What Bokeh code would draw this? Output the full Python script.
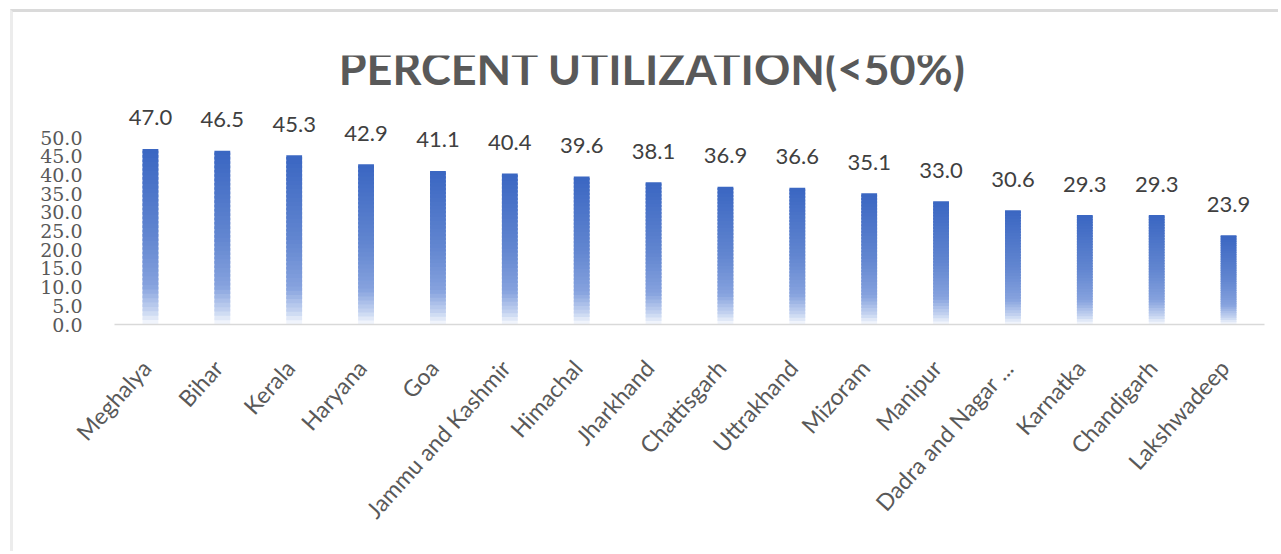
import math
from bokeh.plotting import figure
from bokeh.models import Range1d, FixedTicker, Label, ColumnDataSource
from bokeh.core.properties import value
from bokeh.embed import file_html
from bokeh.resources import INLINE

# States / UTs with utilization below 50 percent
states = ["Meghalya", "Bihar", "Kerala", "Haryana", "Goa", "Jammu and Kashmir",
          "Himachal", "Jharkhand", "Chattisgarh", "Uttrakhand", "Mizoram",
          "Manipur", "Dadra and Nagar ...", "Karnatka", "Chandigarh", "Lakshwadeep"]
utilization = [47.0, 46.5, 45.3, 42.9, 41.1, 40.4, 39.6, 38.1,
               36.9, 36.6, 35.1, 33.0, 30.6, 29.3, 29.3, 23.9]
y_ticks = [0, 5, 10, 15, 20, 25, 30, 35, 40, 45, 50]

TITLE = "PERCENT UTILIZATION(<50%)"
TEXT_GREY = "#595959"

# vertical gradient stops (0 = top of bar, 1 = bottom)
STOPS = [(0.0, (58, 102, 194)), (0.5, (98, 134, 208)), (0.78, (134, 162, 222)),
         (0.92, (196, 211, 240)), (1.0, (248, 250, 254))]


def grad_color(t):
    for (t0, c0), (t1, c1) in zip(STOPS[:-1], STOPS[1:]):
        if t <= t1:
            f = (t - t0) / (t1 - t0)
            r, g, b = (round(a + (b_ - a) * f) for a, b_ in zip(c0, c1))
            return f"#{r:02x}{g:02x}{b:02x}"
    r, g, b = STOPS[-1][1]
    return f"#{r:02x}{g:02x}{b:02x}"


p = figure(width=1268, height=542, output_backend="svg", toolbar_location=None,
           x_range=Range1d(-0.5, len(states) - 0.5), y_range=Range1d(0, 72),
           min_border_left=101, min_border_right=17, min_border_top=43,
           min_border_bottom=230)
p.styles = {"margin-left": "10px", "margin-top": "9px",
            "border-left": "3px solid #ececec", "border-top": "3px solid #dadada"}
p.outline_line_color = None
p.xgrid.visible = False
p.ygrid.visible = False
p.background_fill_color = "white"
p.border_fill_color = "white"

# gradient bars built from stacked slices of each value (drawn bottom-up,
# each slice overlapping the next to avoid seams)
N = 40
bw = 0.11
seg = dict(left=[], right=[], bottom=[], top=[], color=[])
for i, v in enumerate(utilization):
    for k in range(N):
        y0 = v * k / N
        y1 = v * (k + 1) / N
        t = 1 - (k + 0.5) / N
        seg["left"].append(i - bw)
        seg["right"].append(i + bw)
        seg["bottom"].append(y0)
        seg["top"].append(y1 if k == N - 1 else y1 + 0.6 * v / N)
        seg["color"].append(grad_color(t))
p.quad(left="left", right="right", bottom="bottom", top="top",
       fill_color="color", line_color=None, source=ColumnDataSource(seg))

# value labels above bars
lab = ColumnDataSource(dict(x=list(range(len(states))), y=utilization,
                            t=[f"{v:.1f}" for v in utilization]))
p.text(x="x", y="y", text="t", source=lab, text_align="center",
       text_baseline="alphabetic", y_offset=-31,
       text_font=value("Lato"), text_font_size="22px", text_color="#404040")

# title
p.add_layout(Label(x=6.985, y=68.6, text=TITLE, text_align="center",
                   text_baseline="middle", text_font="Lato", text_font_style="bold",
                   text_font_size="45px", text_color=TEXT_GREY))

# axes
label_shift = -0.06
xa = p.xaxis[0]
xt = [i + label_shift for i in range(len(states))]
xa.ticker = FixedTicker(ticks=xt)
xa.major_label_overrides = {t: s for t, s in zip(xt, states)}
xa.major_label_orientation = math.radians(48)
xa.major_tick_line_color = None
xa.minor_tick_line_color = None
xa.axis_line_color = "#d9d9d9"
xa.axis_line_width = 1.5
xa.major_label_text_font = "Lato"
xa.major_label_text_font_size = "23px"
xa.major_label_text_color = TEXT_GREY
xa.major_label_standoff = 33

ya = p.yaxis[0]
ya.ticker = FixedTicker(ticks=y_ticks)
ya.major_label_overrides = {t: f"{t:.1f}" for t in y_ticks}
ya.axis_line_color = None
ya.major_tick_line_color = None
ya.minor_tick_line_color = None
ya.major_label_text_font = "DejaVu Serif"
ya.major_label_text_font_size = "19px"
ya.major_label_text_color = TEXT_GREY
ya.major_label_standoff = 26

open("out.html", "w").write(file_html(p, INLINE))
